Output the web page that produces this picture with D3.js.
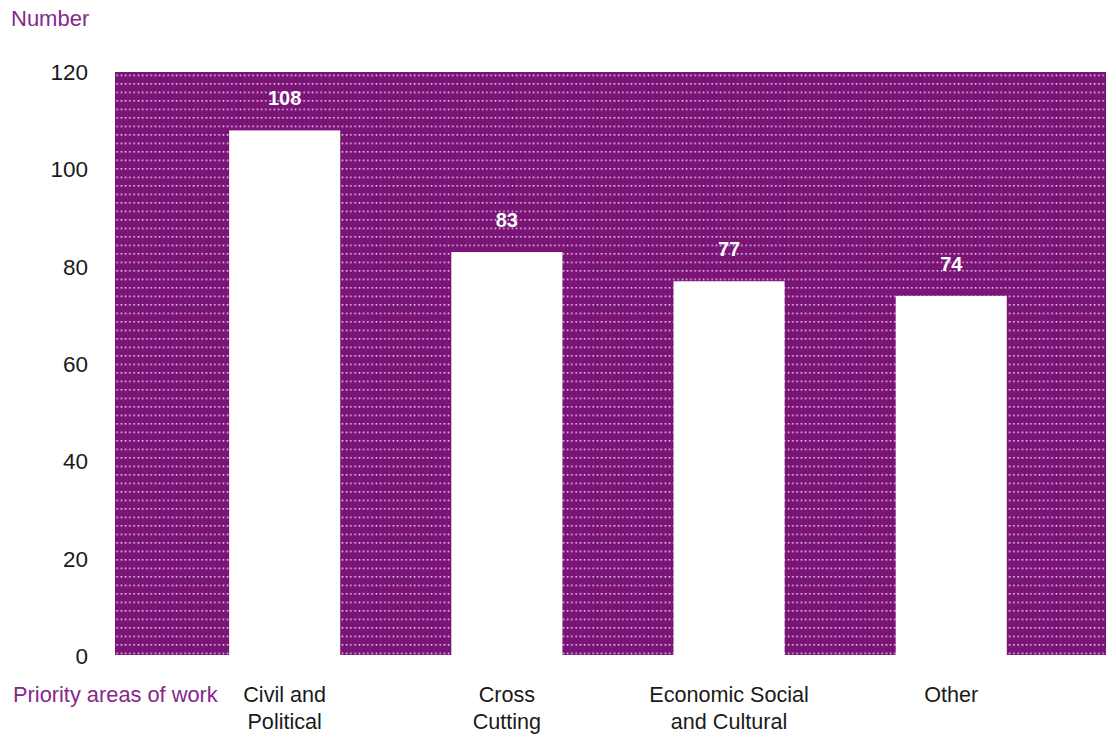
<!DOCTYPE html>
<html>
<head>
<meta charset="utf-8">
<script src="https://cdn.jsdelivr.net/npm/d3@7"></script>
<style>
  body { margin: 0; background: #fff; }
  svg { display: block; font-family: "Liberation Sans", Arial, sans-serif; }
</style>
</head>
<body>
<div id="chart"></div>
<script>
// data
const categories = ['Civil and|Political', 'Cross|Cutting', 'Economic Social|and Cultural', 'Other'];
const values = [108, 83, 77, 74];
const yTicks = [0, 20, 40, 60, 80, 100, 120];

const width = 1116, height = 737;
const margin = {top: 72, right: 10, bottom: 82, left: 115};
const purple = '#7a1577';
const textPurple = '#86288a';

const svg = d3.select('#chart').append('svg')
  .attr('width', width)
  .attr('height', height);

// dotted fill for the plot background
const defs = svg.append('defs');
const pat = defs.append('pattern')
  .attr('id', 'dots')
  .attr('patternUnits', 'userSpaceOnUse')
  .attr('x', margin.left)
  .attr('y', margin.top + 2.6)
  .attr('width', 4.25)
  .attr('height', 8.5);
pat.append('rect')
  .attr('width', 4.25).attr('height', 8.5)
  .attr('fill', purple);
pat.append('rect')
  .attr('x', 1.4).attr('y', 0)
  .attr('width', 1.5).attr('height', 1.5)
  .attr('fill', '#f3dcf0');

const x = d3.scaleBand()
  .domain(categories)
  .range([margin.left, width - margin.right])
  .paddingInner(0.5)
  .paddingOuter(0.48)
  .align(0.535);

const y = d3.scaleLinear()
  .domain([0, 120])
  .range([height - margin.bottom + 1, margin.top]);

// background
svg.append('rect')
  .attr('x', margin.left)
  .attr('y', margin.top)
  .attr('width', width - margin.right - margin.left)
  .attr('height', height - margin.bottom - margin.top)
  .attr('fill', 'url(#dots)');

// bars
svg.append('g')
  .selectAll('rect')
  .data(values)
  .enter().append('rect')
    .attr('x', (d, i) => x(categories[i]))
    .attr('y', d => y(d))
    .attr('width', x.bandwidth())
    .attr('height', d => height - margin.bottom - y(d))
    .attr('fill', '#fff');

// value labels
svg.append('g')
  .attr('font-size', 20)
  .attr('font-weight', 'bold')
  .attr('fill', '#fff')
  .attr('text-anchor', 'middle')
  .selectAll('text')
  .data(values)
  .enter().append('text')
    .attr('x', (d, i) => x(categories[i]) + x.bandwidth() / 2)
    .attr('y', d => y(d) - 25)
    .text(d => d);

// y axis
const yAxis = svg.append('g')
  .attr('transform', `translate(${margin.left - 27},0)`)
  .call(d3.axisLeft(y).tickValues(yTicks).tickSize(0).tickPadding(0));
yAxis.select('.domain').remove();
yAxis.selectAll('text')
  .attr('font-size', 22.5)
  .attr('font-family', '"Liberation Sans", Arial, sans-serif')
  .attr('fill', '#1a1a1a')
  .attr('dy', '0.34em');

// x axis labels
const xAxis = svg.append('g')
  .attr('transform', `translate(0,${height - margin.bottom})`)
  .call(d3.axisBottom(x).tickSize(0).tickFormat(''));
xAxis.select('.domain').remove();
xAxis.selectAll('.tick').each(function(d) {
  const t = d3.select(this).append('text')
    .attr('font-size', 21.6)
    .attr('font-family', '"Liberation Sans", Arial, sans-serif')
    .attr('fill', '#1a1a1a')
    .attr('text-anchor', 'middle');
  d.split('|').forEach((line, i) => {
    t.append('tspan')
      .attr('x', 0)
      .attr('y', 47 + i * 27)
      .text(line);
  });
});

// titles
svg.append('text')
  .attr('x', 11).attr('y', 26)
  .attr('font-size', 22)
  .attr('fill', textPurple)
  .text('Number');

svg.append('text')
  .attr('x', 13).attr('y', 702)
  .attr('font-size', 21.8)
  .attr('fill', textPurple)
  .text('Priority areas of work');
</script>
</body>
</html>
